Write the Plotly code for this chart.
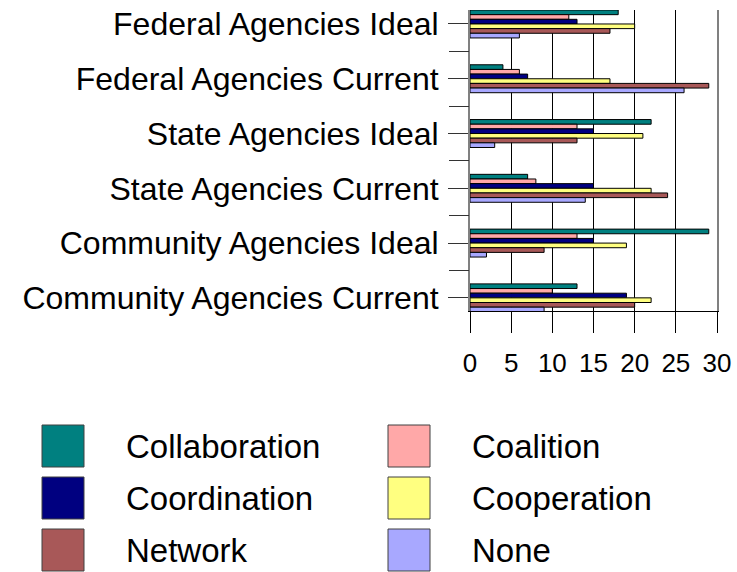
import plotly.graph_objects as go

W, H = 737, 572

categories = [
    "Federal Agencies Ideal",
    "Federal Agencies Current",
    "State Agencies Ideal",
    "State Agencies Current",
    "Community Agencies Ideal",
    "Community Agencies Current",
]

collaboration = [18, 4, 22, 7, 29, 13]
coalition = [12, 6, 13, 8, 13, 10]
coordination = [13, 7, 15, 15, 15, 19]
cooperation = [20, 17, 21, 22, 19, 22]
network = [17, 29, 13, 24, 9, 20]
none = [6, 26, 3, 14, 2, 9]

x_ticks = [0, 5, 10, 15, 20, 25, 30]

SERIES = [
    ("Collaboration", collaboration, "#008080"),
    ("Coalition", coalition, "#FFA8A8"),
    ("Coordination", coordination, "#000080"),
    ("Cooperation", cooperation, "#FFFF80"),
    ("Network", network, "#A85858"),
    ("None", none, "#A8A8FF"),
]

FONT = "Liberation Sans, Arial, sans-serif"


def px_x(p):
    return p / W


def px_y(p):
    return 1 - p / H


fig = go.Figure()

for name, vals, color in SERIES:
    fig.add_trace(go.Bar(
        x=vals, y=categories, orientation="h", name=name,
        marker=dict(color=color, line=dict(color="black", width=1)),
        showlegend=False,
    ))

# invisible trace so the second (boundary-tick) axis gets drawn
fig.add_trace(go.Scatter(
    x=[0] * len(categories), y=categories, yaxis="y2", mode="markers",
    marker=dict(opacity=0), showlegend=False, hoverinfo="skip",
))

yrange = [5.24, -0.255]

fig.update_layout(
    width=W, height=H,
    margin=dict(l=0, r=0, t=0, b=0),
    paper_bgcolor="white", plot_bgcolor="white",
    barmode="group", bargap=0.49, bargroupgap=0,
    font=dict(family=FONT, color="black"),
    xaxis=dict(
        domain=[px_x(470), px_x(717)],
        range=[0, 30], tickvals=x_ticks, automargin=False,
        showgrid=True, gridcolor="black", gridwidth=1,
        zeroline=False,
        showline=True, linecolor="black", linewidth=1,
        ticks="outside", ticklen=21, tickcolor="black",
        ticklabelstandoff=8,
        tickfont=dict(size=26, family=FONT),
    ),
    yaxis=dict(
        domain=[px_y(311), px_y(10)],
        type="category", range=yrange, automargin=False,
        showgrid=False, zeroline=False,
        showline=True, linecolor="#808080", linewidth=2, mirror=True,
        ticks="outside", ticklen=20, tickcolor="#333333",
        ticklabelstandoff=3,
        tickfont=dict(size=32, family=FONT),
    ),
    yaxis2=dict(
        domain=[px_y(311), px_y(10)],
        overlaying="y", anchor="x", side="left", automargin=False,
        type="category", range=yrange, tickson="boundaries",
        showgrid=False, zeroline=False, showline=False,
        ticks="outside", ticklen=20, tickcolor="#333333",
        showticklabels=False,
    ),
)

# legend drawn as large swatches in two columns
sw = 42
for i, (name, vals, color) in enumerate(SERIES):
    row, col = divmod(i, 2)
    x0 = 42 if col == 0 else 388
    y0 = 425 + row * 52
    fig.add_shape(
        type="rect", xref="paper", yref="paper",
        x0=px_x(x0), x1=px_x(x0 + sw), y0=px_y(y0 + sw), y1=px_y(y0),
        fillcolor=color, line=dict(color="#404040", width=1),
    )
    fig.add_annotation(
        xref="paper", yref="paper",
        x=px_x(x0 + 82), y=px_y(y0 + sw / 2),
        xanchor="left", yanchor="middle", showarrow=False,
        text=name, font=dict(size=33, family=FONT, color="black"),
    )

fig.write_html("out.html", config={"displayModeBar": False},
               post_script="document.body.style.margin='0px';")
